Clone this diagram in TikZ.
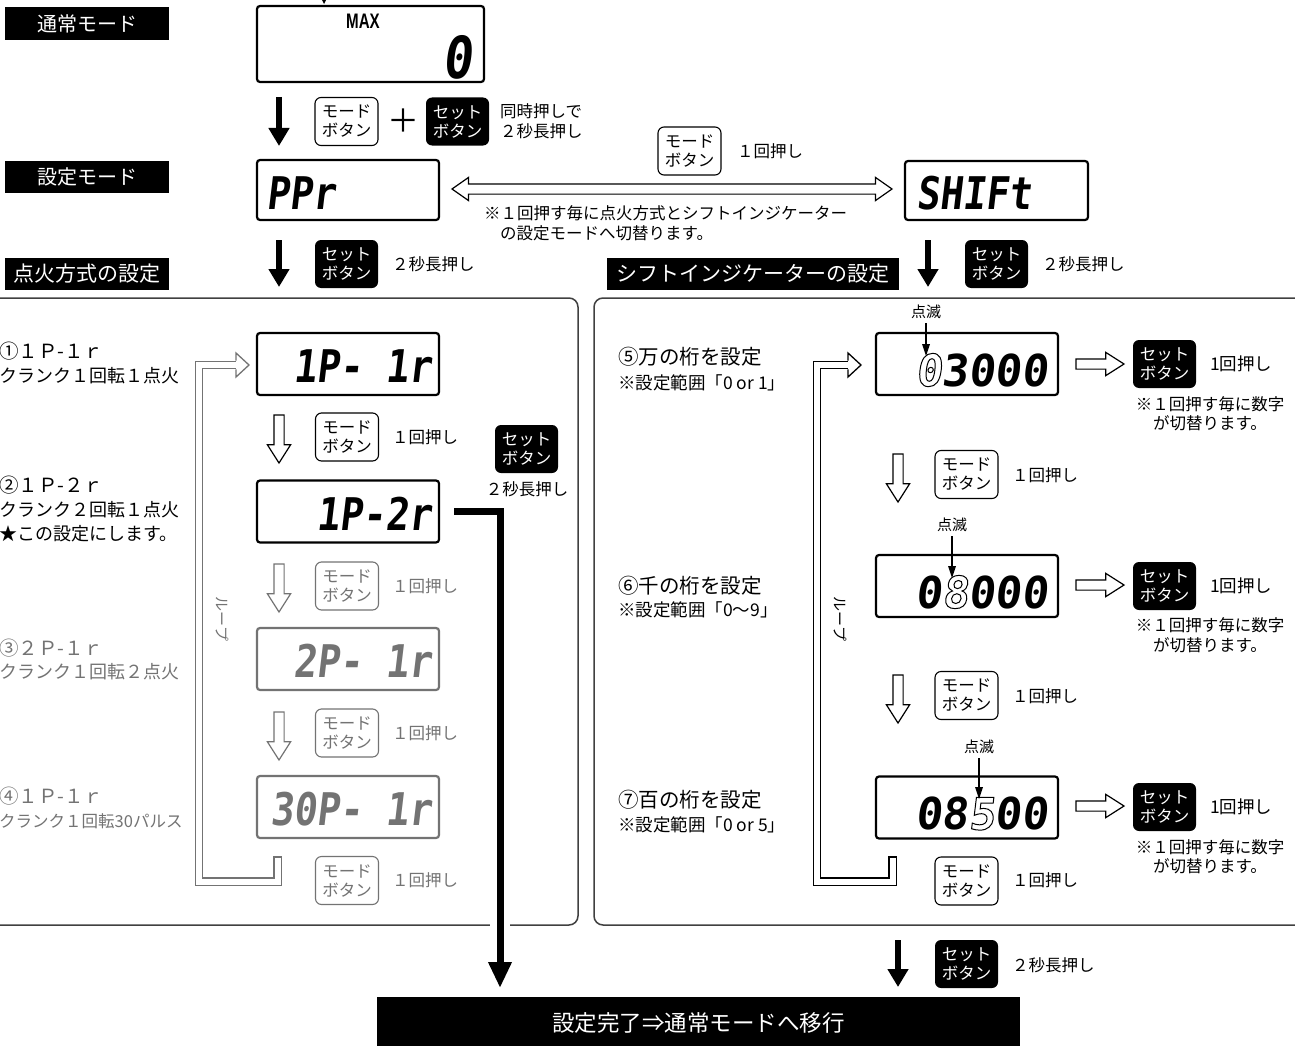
\documentclass[tikz,border=0pt]{standalone}
\usepackage{fontspec}
\setmainfont{Noto Sans CJK JP}
\newfontfamily\lcdfont[FakeSlant=0.12,FakeStretch=0.85]{DejaVu Sans Mono}
\newfontfamily\lcdwide[FakeSlant=0.12,FakeStretch=1.0]{DejaVu Sans Mono}
\newfontfamily\maxfont[FakeStretch=0.72]{Liberation Sans}
\usetikzlibrary{arrows.meta,shapes.arrows}
\definecolor{gr}{gray}{0.45}
\definecolor{pan}{gray}{0.25}
\newcommand{\outl}[1]{\special{pdf:literal direct 1 Tr 1 w}#1\special{pdf:literal direct 0 Tr}}
\tikzset{
 lbl/.style={fill=black,text=white,inner sep=0pt,minimum height=33pt,anchor=west,font=\fontsize{20}{22}\selectfont},
 lcd/.style={draw,line width=2.2pt,rounded corners=3pt,minimum width=182pt,minimum height=61pt,inner sep=0pt},
 lcdtxt/.style={font=\lcdfont\bfseries\fontsize{45}{45}\selectfont,inner sep=0pt,anchor=east},
 lcdtxtw/.style={font=\lcdwide\bfseries\fontsize{44}{44}\selectfont,inner sep=0pt,anchor=east},
 btn/.style={rounded corners=6pt,minimum width=63pt,minimum height=48pt,inner sep=0pt,align=center,font=\fontsize{16.5}{19}\selectfont},
 modebtn/.style={btn,draw,line width=1.1pt,fill=white},
 setbtn/.style={btn,fill=black,text=white},
 tx/.style={inner sep=0pt,anchor=west,font=\fontsize{16.5}{20}\selectfont},
 big/.style={inner sep=0pt,anchor=west,font=\fontsize{19.5}{22}\selectfont},
 blk/.style={line width=6pt,-{Triangle[width=20pt,length=18pt]}},
 oarrow/.style={single arrow,draw,fill=white,line width=1.2pt,minimum height=48pt,inner sep=4.5pt,single arrow head extend=6.5pt,single arrow tip angle=65},
 loopl/.style={double=white,double distance=6pt,line width=1.3pt},
}
\newcommand{\blinkarrow}[2]{%
  \draw[line width=1.2pt] (#1.south) ++(0,4) -- ([yshift=9pt]#2);
  \fill (#2) -- ++(-4,-12) -- ++(8,0) -- cycle;}
\begin{document}
\begin{tikzpicture}[x=1pt,y=-1pt]
\useasboundingbox (0,0) rectangle (1295,1046);

% ---------- top ----------
\node[lbl,minimum width=164pt] (l1) at (5,24) {通常モード};
\node[lcd,minimum width=227pt,minimum height=76pt] (dmax) at (370.5,44) {};
\node[font=\maxfont\bfseries\fontsize{21}{21}\selectfont,inner sep=0pt] (maxt) at (363,21) {MAX};
\node[lcdtxt,font=\lcdfont\bfseries\fontsize{58}{58}\selectfont] (maxv) at (472,57) {0};
\coordinate (tin) at (324,-8);
\draw[line width=1pt] (tin) -- (324,0);
\fill (324,4) -- (321.5,-1) -- (326.5,-1) -- cycle;

\coordinate (a1s) at (279,97); \coordinate (a1e) at (279,146);
\draw[blk] (a1s) -- (a1e);
\node[modebtn] (m0) at (346.5,121.5) {モード\\ボタン};
\node[font=\fontsize{32}{32}\selectfont,inner sep=0pt] (plus) at (403,121) {＋};
\node[setbtn] (s0) at (457.5,121.5) {セット\\ボタン};
\node[tx,align=left] (t0) at (500,121) {同時押しで\\２秒長押し};

\node[lbl,minimum width=164pt,minimum height=32pt] (l2) at (5,177) {設定モード};
\node[lcd,minimum height=60pt] (dppr) at (348,190) {};
\node[lcdtxt,anchor=west] (ppr) at ([xshift=10pt,yshift=-3pt]dppr.west) {PPr};

\node[lcd,minimum width=183pt,minimum height=59pt] (dshift) at (996.5,190.5) {};
\node[lcdtxt,anchor=west] (shift) at ([xshift=12pt,yshift=-3pt]dshift.west) {SHIFt};

\node[double arrow,draw,fill=white,line width=1.2pt,minimum height=440pt,inner sep=4.5pt,double arrow head extend=6.5pt,double arrow tip angle=70] (dbl) at (672,189) {};
\node[modebtn] (mt) at (689.5,151) {モード\\ボタン};
\node[tx] (tt) at (737,151) {１回押し};
\node[tx,align=left] (note0) at (484,223.5) {※１回押す毎に点火方式とシフトインジケーター\\\hspace*{16pt}の設定モードへ切替ります。};

\coordinate (a2s) at (279,240); \coordinate (a2e) at (279,287);
\draw[blk] (a2s) -- (a2e);
\node[setbtn] (s1) at (346.5,264) {セット\\ボタン};
\node[tx] (t1) at (392,264) {２秒長押し};
\node[lbl,minimum width=164pt,minimum height=32pt,font=\fontsize{21}{22}\selectfont] (l3) at (5,274) {点火方式の設定};
\node[lbl,minimum width=292pt,minimum height=32pt,font=\fontsize{21}{22}\selectfont] (l4) at (607,274) {シフトインジケーターの設定};

\coordinate (a3s) at (928,240); \coordinate (a3e) at (928,287);
\draw[blk] (a3s) -- (a3e);
\node[setbtn] (s2) at (996.5,264) {セット\\ボタン};
\node[tx] (t2) at (1042,264) {２秒長押し};

% ---------- panels ----------
\draw[pan,line width=1.5pt,rounded corners=9pt] (-20,298) rectangle (578,925);
\draw[pan,line width=1.5pt,rounded corners=9pt] (594,298) rectangle (1330,925);

% ---------- left panel ----------
\node[big] (p1a) at (-1,351) {①１Ｐ-１ｒ};
\node[tx,font=\fontsize{18}{20}\selectfont] (p1b) at (-1,376) {クランク１回転１点火};
\node[big] (p2a) at (-1,485) {②１Ｐ-２ｒ};
\node[tx,font=\fontsize{18}{20}\selectfont] (p2b) at (-1,510) {クランク２回転１点火};
\node[tx,font=\fontsize{18}{20}\selectfont] (p2c) at (-1,534) {★この設定にします。};
\node[big,text=gr] (p3a) at (-1,648) {③２Ｐ-１ｒ};
\node[tx,font=\fontsize{18}{20}\selectfont,text=gr] (p3b) at (-1,672) {クランク１回転２点火};
\node[big,text=gr] (p4a) at (-1,796) {④１Ｐ-１ｒ};
\node[tx,font=\fontsize{16.5}{20}\selectfont,text=gr] (p4b) at (-1,821) {クランク１回転30パルス};

\node[lcd,minimum height=62pt] (d1) at (348,364) {};
\node[lcdtxt] at ([xshift=-8pt,yshift=-2pt]d1.east) {1P- 1r};
\node[lcd,minimum height=62pt] (d2) at (348,511.5) {};
\node[lcdtxt] at ([xshift=-8pt,yshift=-2pt]d2.east) {1P-2r};
\node[lcd,minimum height=62pt,draw=gr] (d3) at (348,659) {};
\node[lcdtxt,text=gr] at ([xshift=-8pt,yshift=-2pt]d3.east) {2P- 1r};
\node[lcd,minimum height=62pt,draw=gr] (d4) at (348,807) {};
\node[lcdtxt,text=gr] at ([xshift=-8pt,yshift=-2pt]d4.east) {30P- 1r};

\node[oarrow,rotate=-90] (oa1) at (279,435) {};
\node[oarrow,rotate=-90,draw=gr] (oa2) at (279,584) {};
\node[oarrow,rotate=-90,draw=gr] (oa3) at (279,732) {};

\node[modebtn] (m1) at (347,437) {モード\\ボタン};
\node[tx] at (392,437) {１回押し};
\node[modebtn,draw=gr,text=gr] (m2) at (347,586) {モード\\ボタン};
\node[tx,text=gr] at (392,586) {１回押し};
\node[modebtn,draw=gr,text=gr] (m3) at (347,733) {モード\\ボタン};
\node[tx,text=gr] at (392,733) {１回押し};
\node[modebtn,draw=gr,text=gr] (m4) at (347,880.5) {モード\\ボタン};
\node[tx,text=gr] at (392,880) {１回押し};

\node[setbtn] (s3) at (526.5,449) {セット\\ボタン};
\node[tx,anchor=center] (t3) at (527,489) {２秒長押し};

% left loop (gray)
\draw[loopl,gr] (277.5,857) -- (277.5,881.5) -- (199,881.5) -- (199,365) -- (236,365);
\draw[gr,line width=1.3pt] (273.2,857) -- (281.8,857);
\fill[white] (236,353) -- (249,365) -- (236,377) -- cycle;
\draw[gr,line width=1.3pt,line join=miter] (236,360.7) -- (236,353) -- (249,365) -- (236,377) -- (236,369.3);
\node[tx,rotate=-90,anchor=center,text=gr,font=\fontsize{15}{16}\selectfont] (loop1) at (222,619) {ループ};

% thick connector
\coordinate (fin1) at (500,988);
\draw[white,line width=20pt] (500,917) -- (500,933);
\draw[line width=7pt,line join=miter,-{Triangle[width=22pt,length=26pt]}] ([xshift=14pt]d2.east) -| (fin1);

% ---------- right panel ----------
\node[big,font=\fontsize{20.5}{22}\selectfont] (q5a) at (618,357) {⑤万の桁を設定};
\node[tx,font=\fontsize{17.5}{20}\selectfont] (q5b) at (618,383) {※設定範囲「0 or 1」};
\node[big,font=\fontsize{20.5}{22}\selectfont] (q6a) at (618,586) {⑥千の桁を設定};
\node[tx,font=\fontsize{17.5}{20}\selectfont] (q6b) at (618,610) {※設定範囲「0～9」};
\node[big,font=\fontsize{20.5}{22}\selectfont] (q7a) at (618,800) {⑦百の桁を設定};
\node[tx,font=\fontsize{17.5}{20}\selectfont] (q7b) at (618,825) {※設定範囲「0 or 5」};

\node[lcd,minimum height=62pt] (r1) at (967,364) {};
\node[lcdtxtw] at ([xshift=-11pt,yshift=-6pt]r1.east) {\outl{0}3000};
\node[lcd,minimum height=62pt] (r2) at (967,586) {};
\node[lcdtxtw] at ([xshift=-11pt,yshift=-6pt]r2.east) {0\outl{8}000};
\node[lcd,minimum height=62pt] (r3) at (967,807.5) {};
\node[lcdtxtw] at ([xshift=-11pt,yshift=-6pt]r3.east) {08\outl{5}00};

\node[inner sep=0pt,font=\fontsize{15}{16}\selectfont] (b1) at (926,312) {点滅};
\coordinate (b1e) at (926,356);
\blinkarrow{b1}{b1e}
\node[inner sep=0pt,font=\fontsize{15}{16}\selectfont] (b2) at (952,525) {点滅};
\coordinate (b2e) at (952,578);
\blinkarrow{b2}{b2e}
\node[inner sep=0pt,font=\fontsize{15}{16}\selectfont] (b3) at (979,747) {点滅};
\coordinate (b3e) at (979,799);
\blinkarrow{b3}{b3e}

\node[oarrow] (ra1) at (1096,364) {};
\node[oarrow] (ra2) at (1096,585) {};
\node[oarrow] (ra3) at (1096,806) {};
\node[setbtn] (rs1) at (1164.5,364) {セット\\ボタン};
\node[setbtn] (rs2) at (1164.5,586) {セット\\ボタン};
\node[setbtn] (rs3) at (1164.5,807) {セット\\ボタン};
\node[tx,font=\fontsize{17.5}{20}\selectfont] at (1210,364) {1回押し};
\node[tx,font=\fontsize{17.5}{20}\selectfont] at (1210,586) {1回押し};
\node[tx,font=\fontsize{17.5}{20}\selectfont] at (1210,807) {1回押し};
\node[tx,anchor=center,align=center,font=\fontsize{16.5}{19.5}\selectfont] (n1) at (1210,413.5) {※１回押す毎に数字\\が切替ります。};
\node[tx,anchor=center,align=center,font=\fontsize{16.5}{19.5}\selectfont] (n2) at (1210,635) {※１回押す毎に数字\\が切替ります。};
\node[tx,anchor=center,align=center,font=\fontsize{16.5}{19.5}\selectfont] (n3) at (1210,856.5) {※１回押す毎に数字\\が切替ります。};

\node[oarrow,rotate=-90] (rd1) at (898,474) {};
\node[oarrow,rotate=-90] (rd2) at (898,695) {};
\node[modebtn] (rm1) at (966.5,474.5) {モード\\ボタン};
\node[modebtn] (rm2) at (966.5,695.5) {モード\\ボタン};
\node[modebtn] (rm3) at (966.5,881) {モード\\ボタン};
\node[tx] at (1012,475) {１回押し};
\node[tx] at (1012,696) {１回押し};
\node[tx] at (1012,880) {１回押し};

% right loop (black)
\draw[loopl,black] (892.5,857) -- (892.5,881.5) -- (817,881.5) -- (817,365) -- (848,365);
\draw[line width=1.3pt] (888.2,857) -- (896.8,857);
\fill[white] (848,353) -- (861,365) -- (848,377) -- cycle;
\draw[line width=1.3pt,line join=miter] (848,360.7) -- (848,353) -- (861,365) -- (848,377) -- (848,369.3);
\node[tx,rotate=-90,anchor=center,font=\fontsize{15}{16}\selectfont] (loop2) at (840,619) {ループ};

% ---------- bottom ----------
\coordinate (a4s) at (898,940); \coordinate (a4e) at (898,987);
\draw[blk] (a4s) -- (a4e);
\node[setbtn] (s4) at (966.5,964) {セット\\ボタン};
\node[tx] (t4) at (1012,965) {２秒長押し};
\node[fill=black,text=white,inner sep=0pt,minimum width=643pt,minimum height=52pt,font=\fontsize{22.5}{24}\selectfont] (fin) at (698.5,1023) {設定完了⇒通常モードへ移行};
\end{tikzpicture}
\end{document}
